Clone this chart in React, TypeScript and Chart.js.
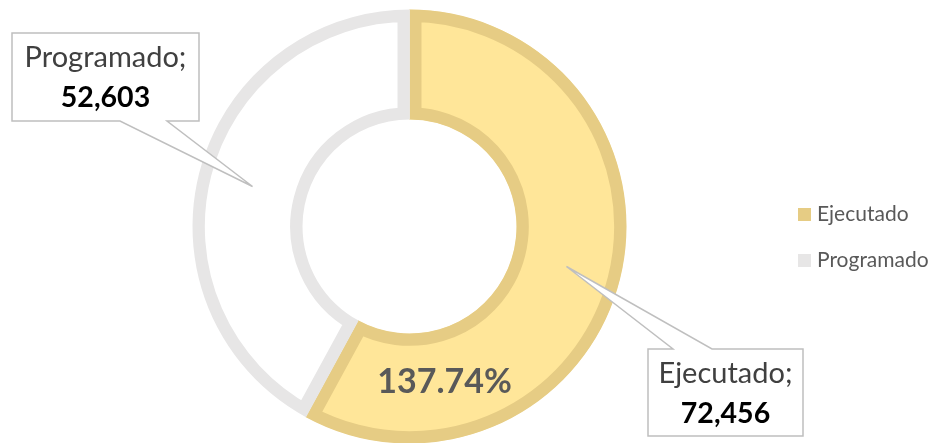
import React, { useEffect, useRef } from 'react';
import { Chart, registerables } from 'chart.js';

Chart.register(...registerables);

const categories = ['Ejecutado', 'Programado'];
const values = [72456, 52603];

const fillColors = ['#FFE699', '#FFFFFF'];
const borderColors = ['#E6CC84', '#E7E6E6'];

const FONT = 'Lato, "Open Sans", sans-serif';

const fmt = (v: number) => v.toLocaleString('en-US');

// callout boxes (position of the label box, and base of pointer)
const calloutBoxes = [
  { x: 648, y: 349, w: 155, h: 87, b1: 673, b2: 712, side: 'top' },
  { x: 12, y: 33, w: 187, h: 88, b1: 120, b2: 167, side: 'bottom' },
];

const overlayPlugin = {
  id: 'overlay',
  afterDatasetsDraw(chart: any) {
    const ctx = chart.ctx as CanvasRenderingContext2D;
    const meta = chart.getDatasetMeta(0);
    ctx.save();

    // callouts
    meta.data.forEach((arc: any, i: number) => {
      const tip = arc.tooltipPosition();
      const b = calloutBoxes[i];
      ctx.beginPath();
      if (b.side === 'top') {
        ctx.moveTo(b.x, b.y);
        ctx.lineTo(b.b1, b.y);
        ctx.lineTo(tip.x, tip.y);
        ctx.lineTo(b.b2, b.y);
        ctx.lineTo(b.x + b.w, b.y);
        ctx.lineTo(b.x + b.w, b.y + b.h);
        ctx.lineTo(b.x, b.y + b.h);
      } else {
        ctx.moveTo(b.x, b.y);
        ctx.lineTo(b.x + b.w, b.y);
        ctx.lineTo(b.x + b.w, b.y + b.h);
        ctx.lineTo(b.b2, b.y + b.h);
        ctx.lineTo(tip.x, tip.y);
        ctx.lineTo(b.b1, b.y + b.h);
        ctx.lineTo(b.x, b.y + b.h);
      }
      ctx.closePath();
      ctx.fillStyle = '#FFFFFF';
      ctx.fill();
      ctx.strokeStyle = '#BFBFBF';
      ctx.lineWidth = 1.5;
      ctx.lineJoin = 'miter';
      ctx.stroke();

      const cx = b.x + b.w / 2;
      ctx.textAlign = 'center';
      ctx.textBaseline = 'middle';
      ctx.fillStyle = '#404040';
      ctx.font = `29px ${FONT}`;
      ctx.fillText(categories[i] + ';', cx, b.y + 25);
      ctx.fillStyle = '#000000';
      ctx.font = `bold 28.5px ${FONT}`;
      ctx.fillText(fmt(values[i]), cx, b.y + 65);
    });

    // percentage
    const a0 = meta.data[0] as any;
    const pct = ((values[0] / values[1]) * 100).toFixed(2) + '%';
    ctx.font = `bold 34px ${FONT}`;
    ctx.fillStyle = '#595959';
    ctx.textAlign = 'center';
    ctx.textBaseline = 'middle';
    ctx.fillText(pct, a0.x + 35, a0.y + 156);

    // legend
    const lx = 798;
    const ly = [214, 260];
    ctx.font = `21px ${FONT}`;
    ctx.textAlign = 'left';
    categories.forEach((c, i) => {
      ctx.fillStyle = borderColors[i];
      ctx.fillRect(lx, ly[i] - 6, 13, 13);
      ctx.fillStyle = '#595959';
      ctx.fillText(c, lx + 19, ly[i]);
    });

    ctx.restore();
  },
};

export default function App() {
  const ref = useRef<HTMLCanvasElement | null>(null);
  useEffect(() => {
    document.body.style.margin = '0';
    const canvas = ref.current!;
    const chart = new Chart(canvas, {
      type: 'doughnut',
      data: {
        labels: categories,
        datasets: [
          {
            data: values,
            backgroundColor: fillColors,
            borderColor: borderColors,
            borderWidth: 12,
            borderAlign: 'inner',
            borderJoinStyle: 'miter',
          } as any,
        ],
      },
      options: {
        responsive: false,
        animation: false,
        radius: 217,
        cutout: '49.3%',
        layout: { padding: { left: 0, right: 122, top: 10, bottom: 0 } },
        plugins: {
          legend: { display: false },
          tooltip: { enabled: false },
        },
      } as any,
      plugins: [overlayPlugin],
    });
    return () => chart.destroy();
  }, []);
  return (
    <div style={{ width: 941, height: 443, background: '#fff' }}>
      <canvas ref={ref} width={941} height={443} style={{ display: 'block' }} />
    </div>
  );
}
